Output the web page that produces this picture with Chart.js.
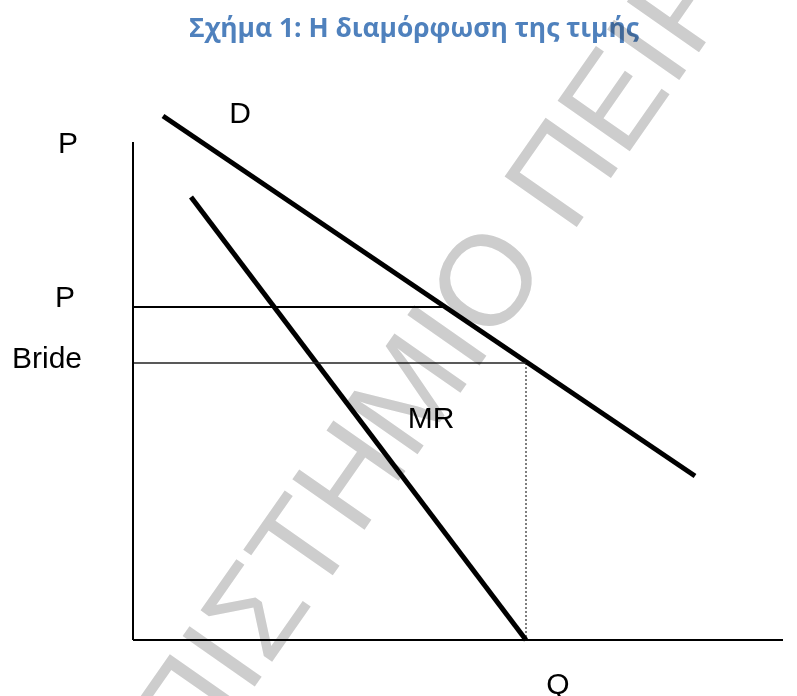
<!DOCTYPE html>
<html>
<head>
<meta charset="utf-8">
<script src="https://cdn.jsdelivr.net/npm/chart.js@4.4.0/dist/chart.umd.min.js"></script>
<style>
  html, body { margin: 0; padding: 0; background: #fff; }
  #wrap { width: 797px; height: 696px; position: relative; }
</style>
</head>
<body>
<div id="wrap"><canvas id="myChart"></canvas></div>
<script>
// Diagram values (quantity on x, price on y, arbitrary units)
const titleText = 'Σχήμα 1: Η διαμόρφωση της τιμής';
const watermarkText = 'ΠΑΝΕΠΙΣΤΗΜΙΟ ΠΕΙΡΑΙΩΣ';

const axisQ = [0, 650];
const axisP = [0, 498];

const demandQ = [30, 562];
const demandP = [524, 164];

const mrQ = [58, 393];
const mrP = [443, 0];

const priceLevels = [333, 277];   // P, Bride
const priceEndsQ = [310, 393];
const equilibriumQ = 393;

const labelTexts = ['P', 'D', 'P', 'Bride', 'MR', 'Q'];
const labelQ = [-65, 107, -68, -121, 298, 425];
const labelP = [487, 517, 333, 272, 212, -54];

const toPoints = (xs, ys) => xs.map((x, i) => ({ x: x, y: ys[i] }));

const lineStyle = (width, extra) => Object.assign({
    borderColor: '#000',
    borderWidth: width,
    pointRadius: 0,
    showLine: true,
    fill: false,
    borderCapStyle: 'butt'
}, extra || {});

// Labels, title and the faint watermark
const textPlugin = {
    id: 'diagramText',
    afterDatasetsDraw(chart) {
        const ctx = chart.ctx;
        const xs = chart.scales.x;
        const ys = chart.scales.y;
        ctx.save();
        ctx.fillStyle = '#000';
        ctx.font = '30px "Liberation Sans", Arial, sans-serif';
        ctx.textBaseline = 'alphabetic';
        labelTexts.forEach((t, i) => {
            ctx.textAlign = t === 'Bride' ? 'left' : 'center';
            ctx.fillText(t, xs.getPixelForValue(labelQ[i]), ys.getPixelForValue(labelP[i]));
        });

        // title, sized to the width of the original heading
        ctx.font = 'bold 26px "Open Sans", sans-serif';
        const w = ctx.measureText(titleText).width;
        const size = 26 * 450 / w;
        ctx.font = 'bold ' + size.toFixed(2) + 'px "Open Sans", sans-serif';
        ctx.fillStyle = '#4f81bd';
        ctx.textAlign = 'center';
        ctx.fillText(titleText, 414, 37);
        ctx.restore();
    },
    afterDraw(chart) {
        const ctx = chart.ctx;
        ctx.save();
        ctx.globalCompositeOperation = 'multiply';
        ctx.font = '128px "Liberation Sans", Arial, sans-serif';
        ctx.fillStyle = '#cdcdcd';
        ctx.textAlign = 'left';
        ctx.textBaseline = 'alphabetic';
        const before = ctx.measureText('ΠΑΝΕΠΙΣΤΗΜΙ').width;
        const oWidth = ctx.measureText('Ο').width;
        ctx.translate(484, 279);
        ctx.rotate(-55 * Math.PI / 180);
        ctx.fillText(watermarkText, -(before + oWidth / 2), 46);
        ctx.restore();
    }
};

const myChart = new Chart(document.getElementById('myChart'), {
    type: 'scatter',
    data: {
        datasets: [
            lineStyle(2, { data: toPoints([0, 0], axisP) }),
            lineStyle(2, { data: toPoints(axisQ, [0, 0]) }),
            lineStyle(2, { data: toPoints([0, priceEndsQ[0]], [priceLevels[0], priceLevels[0]]) }),
            lineStyle(1.5, { data: toPoints([0, priceEndsQ[1]], [priceLevels[1], priceLevels[1]]), borderColor: '#222' }),
            lineStyle(1, { data: toPoints([equilibriumQ, equilibriumQ], [priceLevels[1], 0]), borderDash: [2, 2] }),
            lineStyle(5, { data: toPoints(demandQ, demandP) }),
            lineStyle(5, { data: toPoints(mrQ, mrP) })
        ]
    },
    options: {
        responsive: true,
        maintainAspectRatio: false,
        animation: false,
        layout: { padding: 0 },
        plugins: {
            legend: { display: false },
            tooltip: { enabled: false },
            title: { display: false }
        },
        scales: {
            x: { type: 'linear', min: -133, max: 664, display: false },
            y: { type: 'linear', min: -56, max: 640, display: false }
        }
    },
    plugins: [textPlugin]
});
</script>
</body>
</html>
